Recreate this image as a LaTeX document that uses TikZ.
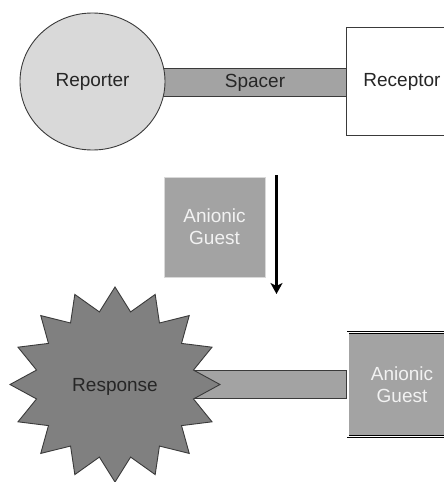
\documentclass[tikz,border=0pt]{standalone}
\usepackage{fontspec}
\setmainfont{Liberation Sans}
\usetikzlibrary{shapes.geometric,arrows.meta}
\definecolor{edgegray}{HTML}{3A3A3A}
\definecolor{lightfill}{HTML}{D9D9D9}
\definecolor{midfill}{HTML}{A3A3A3}
\definecolor{darkfill}{HTML}{808080}
\definecolor{txt}{HTML}{262626}
\definecolor{paletxt}{HTML}{F2F2F2}
\tikzset{
  lbl/.style={font=\fontsize{19}{22}\selectfont, text=txt, align=center},
  barbox/.style={draw=edgegray, line width=0.9pt, fill=midfill, inner sep=0pt},
  guestbox/.style={fill=midfill, inner sep=0pt, lbl, text=paletxt},
}
\begin{document}
\begin{tikzpicture}[x=1pt,y=-1pt]
\useasboundingbox (0,0) rectangle (444,482);
\clip (0,0) rectangle (444,482);
% top row
\node[barbox, minimum width=190pt, minimum height=28pt, lbl] (spacer) at (255,82) {\hspace*{0pt}};
\node[lbl] (spacertxt) at (255,82.5) {Spacer};
\node[ellipse, draw=edgegray, line width=0.9pt, fill=lightfill, minimum width=145pt, minimum height=137pt, lbl] (reporter) at (92.5,81.5) {Reporter};
\node[rectangle, draw=edgegray, line width=0.9pt, fill=white, minimum width=112pt, minimum height=108pt, lbl] (receptor) at (402,81.5) {Receptor};
% middle
\node[guestbox, draw=lightfill, line width=0.6pt, minimum width=101pt, minimum height=100pt] (guest1) at (214.5,227) {Anionic\\Guest};
\coordinate (arrtop) at (276.5,175);
\coordinate (arrbot) at (276.5,294);
\draw[line width=2.4pt, -{Stealth[length=11pt,width=12pt,inset=3pt]}] (arrtop) -- (arrbot);
% bottom row
\node[barbox, minimum width=170pt, minimum height=27.5pt] (bar2) at (261,384.5) {};
\draw[draw=edgegray, line width=0.9pt, fill=darkfill]
  (115,287) \foreach \i in {1,...,31} {
    -- ({115+ (mod(\i,2)==0 ? 105 : 80)*cos(90+\i*11.25)}, {384.5 - (mod(\i,2)==0 ? 97.5 : 74)*sin(90+\i*11.25)})
  } -- cycle;
\node[lbl] (response) at (115,386.5) {Response};
\node[guestbox, draw=black, line width=0.7pt, double=white, double distance=1.4pt, minimum width=108pt, minimum height=104pt] (guest2) at (402,384.5) {Anionic\\Guest};
\end{tikzpicture}
\end{document}
